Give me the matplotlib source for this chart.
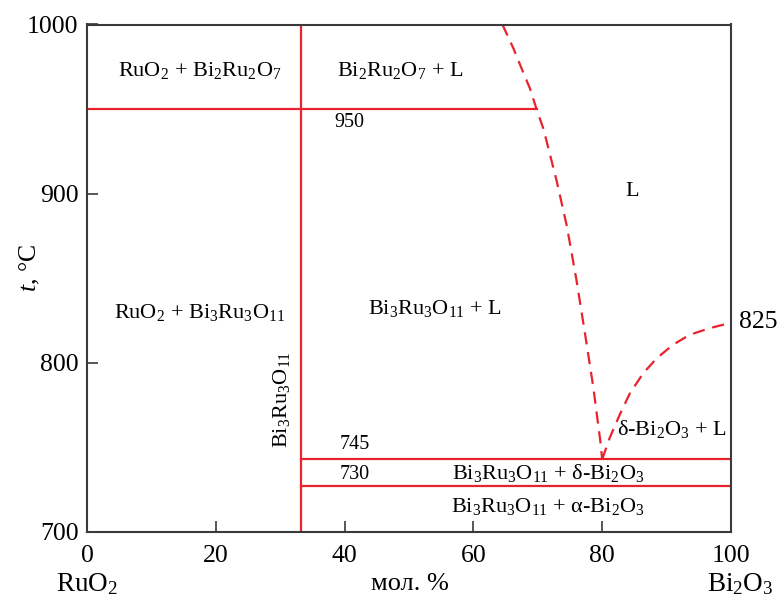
import matplotlib
matplotlib.use("Agg")
import matplotlib.pyplot as plt

plt.rcParams['font.family'] = ['Liberation Serif', 'DejaVu Serif']
plt.rcParams['mathtext.fontset'] = 'custom'
plt.rcParams['mathtext.rm'] = 'Liberation Serif'
plt.rcParams['mathtext.it'] = 'Liberation Serif:italic'
plt.rcParams['mathtext.default'] = 'rm'

# Data
x_compound = 33.3          # Bi3Ru3O11 composition, mol.% Bi2O3
t_peritectic = 950
t_eutectic = 743
t_transition = 727
peritectic_x_end = 69.8
liq1_x = [64.5, 66.2, 67.7, 68.8, 69.8, 70.9, 72.9, 74.5, 76.0, 77.3, 78.6, 79.7, 80.0]
liq1_t = [1000, 986, 972, 962, 950, 938, 908, 881, 849, 818, 786, 754, 743]
liq2_x = [80.0, 81.2, 82.8, 84.3, 86.4, 88.5, 91.0, 93.6, 96.7, 100.0]
liq2_t = [743, 756, 770, 782, 794, 802.8, 810.7, 816.6, 820.5, 823.7]
xticks = [0, 20, 40, 60, 80, 100]
yticks = [700, 800, 900, 1000]

red = '#e8232e'
dark = '#3a3a3a'

fig = plt.figure(figsize=(7.8, 6.0), dpi=100)
ax = fig.add_axes([87/780, 1-532/600, (731-87)/780, (532-24.5)/600])
ax.set_xlim(0, 100)
ax.set_ylim(700, 1000)
ax.set_xticks(xticks)
ax.set_yticks(yticks)
ax.tick_params(direction='in', length=8, width=1.2, color=dark, labelsize=18.5)
ax.tick_params(axis='x', pad=9)
ax.tick_params(axis='y', pad=6)
for s in ax.spines.values():
    s.set_color(dark)
    s.set_linewidth(1.5)

lw = 1.6
dash = (0, (5.5, 3.5))
ax.plot([x_compound, x_compound], [700, 1000], color=red, lw=lw)
ax.plot([0, peritectic_x_end], [t_peritectic, t_peritectic], color=red, lw=lw)
ax.plot([x_compound, 100], [t_eutectic, t_eutectic], color=red, lw=lw)
ax.plot([x_compound, 100], [t_transition, t_transition], color=red, lw=lw)
ax.plot(liq1_x, liq1_t, color=red, lw=lw, ls=dash)
ax.plot(liq2_x, liq2_t, color=red, lw=lw, ls=dash)

fs = 16
nfs = 14.5
ax.text(17.5, 973, r'RuO$_2$ + Bi$_2$Ru$_2$O$_7$', ha='center', va='center', fontsize=fs)
ax.text(48.6, 973, r'Bi$_2$Ru$_2$O$_7$ + L', ha='center', va='center', fontsize=fs)
ax.text(40.8, 942, '950', ha='center', va='center', fontsize=nfs)
ax.text(84.6, 901, 'L', ha='center', va='center', fontsize=fs)
ax.text(17.5, 830, r'RuO$_2$ + Bi$_3$Ru$_3$O$_{11}$', ha='center', va='center', fontsize=fs)
ax.text(54.0, 832, r'Bi$_3$Ru$_3$O$_{11}$ + L', ha='center', va='center', fontsize=fs)
ax.text(30.2, 778, r'Bi$_3$Ru$_3$O$_{11}$', ha='center', va='center', fontsize=fs, rotation=90)
ax.text(90.8, 761, r'δ-Bi$_2$O$_3$ + L', ha='center', va='center', fontsize=fs)
ax.text(41.6, 752, '745', ha='center', va='center', fontsize=nfs)
ax.text(41.6, 734, '730', ha='center', va='center', fontsize=nfs)
ax.text(71.6, 735, r'Bi$_3$Ru$_3$O$_{11}$ + δ-Bi$_2$O$_3$', ha='center', va='center', fontsize=fs)
ax.text(71.6, 715, r'Bi$_3$Ru$_3$O$_{11}$ + α-Bi$_2$O$_3$', ha='center', va='center', fontsize=fs)
ax.text(101.3, 824, '825', ha='left', va='center', fontsize=18.5, clip_on=False)

trans = ax.get_xaxis_transform()
ax.text(0.0, -0.103, r'RuO$_2$', transform=trans, ha='center', va='center', fontsize=19.5, clip_on=False)
ax.text(50.2, -0.103, 'мол. %', transform=trans, ha='center', va='center', fontsize=19, clip_on=False)
ax.text(101.4, -0.103, r'Bi$_2$O$_3$', transform=trans, ha='center', va='center', fontsize=19.5, clip_on=False)

ax.text(-0.088, 0.52, r'$\mathit{t}$, °C', transform=ax.transAxes, ha='center', va='center',
        fontsize=18.5, rotation=90, clip_on=False)

fig.savefig('out.png', dpi=100)
